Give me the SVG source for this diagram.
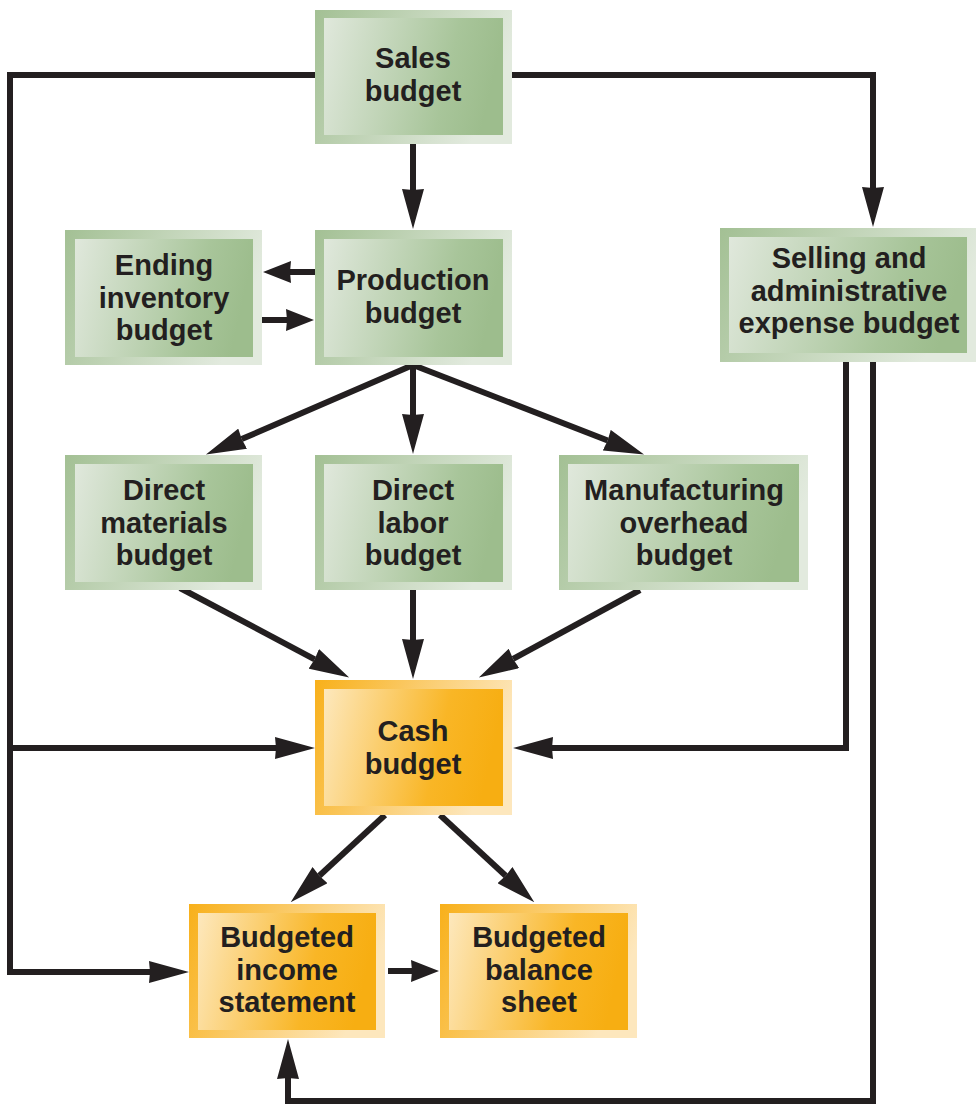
<svg xmlns="http://www.w3.org/2000/svg" width="979" height="1106" viewBox="0 0 979 1106">
<defs>
<linearGradient id="gOut" x1="0" y1="0" x2="1" y2="0.3"><stop offset="0" stop-color="#a3c094"/><stop offset="1" stop-color="#e2eade"/></linearGradient>
<linearGradient id="gIn" x1="0" y1="0" x2="1" y2="0.15"><stop offset="0" stop-color="#e0e8dc"/><stop offset="0.75" stop-color="#a8c59a"/><stop offset="1" stop-color="#9dbd8d"/></linearGradient>
<linearGradient id="oOut" x1="0" y1="0" x2="1" y2="0.3"><stop offset="0" stop-color="#f8b01a"/><stop offset="1" stop-color="#fde7bd"/></linearGradient>
<linearGradient id="oIn" x1="0" y1="0" x2="1" y2="0.15"><stop offset="0" stop-color="#fde8bd"/><stop offset="0.7" stop-color="#f9b626"/><stop offset="1" stop-color="#f7ae12"/></linearGradient>
<marker id="ah" viewBox="0 0 40 22" markerWidth="40" markerHeight="22" refX="1" refY="11" orient="auto" markerUnits="userSpaceOnUse"><path d="M0,0 L40,11 L0,22 L1,11 Z" fill="#231f20"/></marker>
<marker id="ahs" viewBox="0 0 28 22" markerWidth="28" markerHeight="22" refX="1" refY="11" orient="auto" markerUnits="userSpaceOnUse"><path d="M0,0 L28,11 L0,22 L1,11 Z" fill="#231f20"/></marker>
</defs>
<style>
.og{fill:url(#gOut)}.ig{fill:url(#gIn)}
.oo{fill:url(#oOut)}.io{fill:url(#oIn)}
text{font-family:"Liberation Sans",Arial,sans-serif;font-weight:bold;font-size:29px;fill:#231f20;text-anchor:middle}
.c{fill:none;stroke:#231f20;stroke-width:6;stroke-linejoin:miter}
.a{marker-end:url(#ah)}.s{marker-end:url(#ahs)}
</style>
<rect width="979" height="1106" fill="#ffffff"/>
<g id="connectors">
<path class="c" d="M315,75 H10 V972 H150"/>
<path class="c a" d="M10,748 H276"/>
<path class="c a" d="M512,75 H873 V188"/>
<path class="c a" d="M413,144 V190"/>
<path class="c s" d="M315,272 H290"/>
<path class="c s" d="M262,320 H287"/>
<path class="c a" d="M413,365 L241.7,439.1"/>
<path class="c a" d="M413,365 V415"/>
<path class="c a" d="M413,365 L607.7,440.5"/>
<path class="c a" d="M180,588 L314.7,659.3"/>
<path class="c a" d="M413,590 V640"/>
<path class="c a" d="M640,590 L513.1,658.9"/>
<path class="c a" d="M846,362 V748 H552"/>
<path class="c a" d="M873,362 V1101 H288 V1078"/>
<path class="c a" d="M385,815 L319.3,875.8"/>
<path class="c a" d="M440,815 L505.7,875.8"/>
<path class="c s" d="M388,971 H412"/>
<path class="c a" d="M10,972 H150"/>
</g>
<g id="sales">
<rect class="og" x="315" y="10" width="197" height="134"/><rect class="ig" x="324" y="18" width="179" height="117"/>
<text x="413" y="68">Sales</text><text x="413" y="101">budget</text>
</g>
<g id="ending">
<rect class="og" x="65" y="230" width="197" height="135"/><rect class="ig" x="75" y="239" width="178" height="118"/>
<text x="164" y="275">Ending</text><text x="164" y="308">inventory</text><text x="164" y="340">budget</text>
</g>
<g id="production">
<rect class="og" x="315" y="230" width="197" height="135"/><rect class="ig" x="324" y="239" width="179" height="118"/>
<text x="413" y="290">Production</text><text x="413" y="323">budget</text>
</g>
<g id="selling">
<rect class="og" x="720" y="228" width="256" height="134"/><rect class="ig" x="729" y="237" width="238" height="116"/>
<text x="849" y="268">Selling and</text><text x="849" y="301">administrative</text><text x="849" y="333">expense budget</text>
</g>
<g id="directMaterials">
<rect class="og" x="65" y="455" width="197" height="135"/><rect class="ig" x="75" y="464" width="178" height="118"/>
<text x="164" y="500">Direct</text><text x="164" y="533">materials</text><text x="164" y="565">budget</text>
</g>
<g id="directLabor">
<rect class="og" x="315" y="455" width="197" height="135"/><rect class="ig" x="324" y="464" width="179" height="118"/>
<text x="413" y="500">Direct</text><text x="413" y="533">labor</text><text x="413" y="565">budget</text>
</g>
<g id="overhead">
<rect class="og" x="559" y="455" width="249" height="135"/><rect class="ig" x="568" y="464" width="231" height="118"/>
<text x="684" y="500">Manufacturing</text><text x="684" y="533">overhead</text><text x="684" y="565">budget</text>
</g>
<g id="cash">
<rect class="oo" x="315" y="680" width="197" height="135"/><rect class="io" x="324" y="689" width="179" height="117"/>
<text x="413" y="741">Cash</text><text x="413" y="774">budget</text>
</g>
<g id="income">
<rect class="oo" x="189" y="904" width="196" height="134"/><rect class="io" x="198" y="913" width="178" height="117"/>
<text x="287" y="947">Budgeted</text><text x="287" y="980">income</text><text x="287" y="1012">statement</text>
</g>
<g id="balance">
<rect class="oo" x="440" y="904" width="197" height="134"/><rect class="io" x="449" y="913" width="179" height="117"/>
<text x="539" y="947">Budgeted</text><text x="539" y="980">balance</text><text x="539" y="1012">sheet</text>
</g>
</svg>
